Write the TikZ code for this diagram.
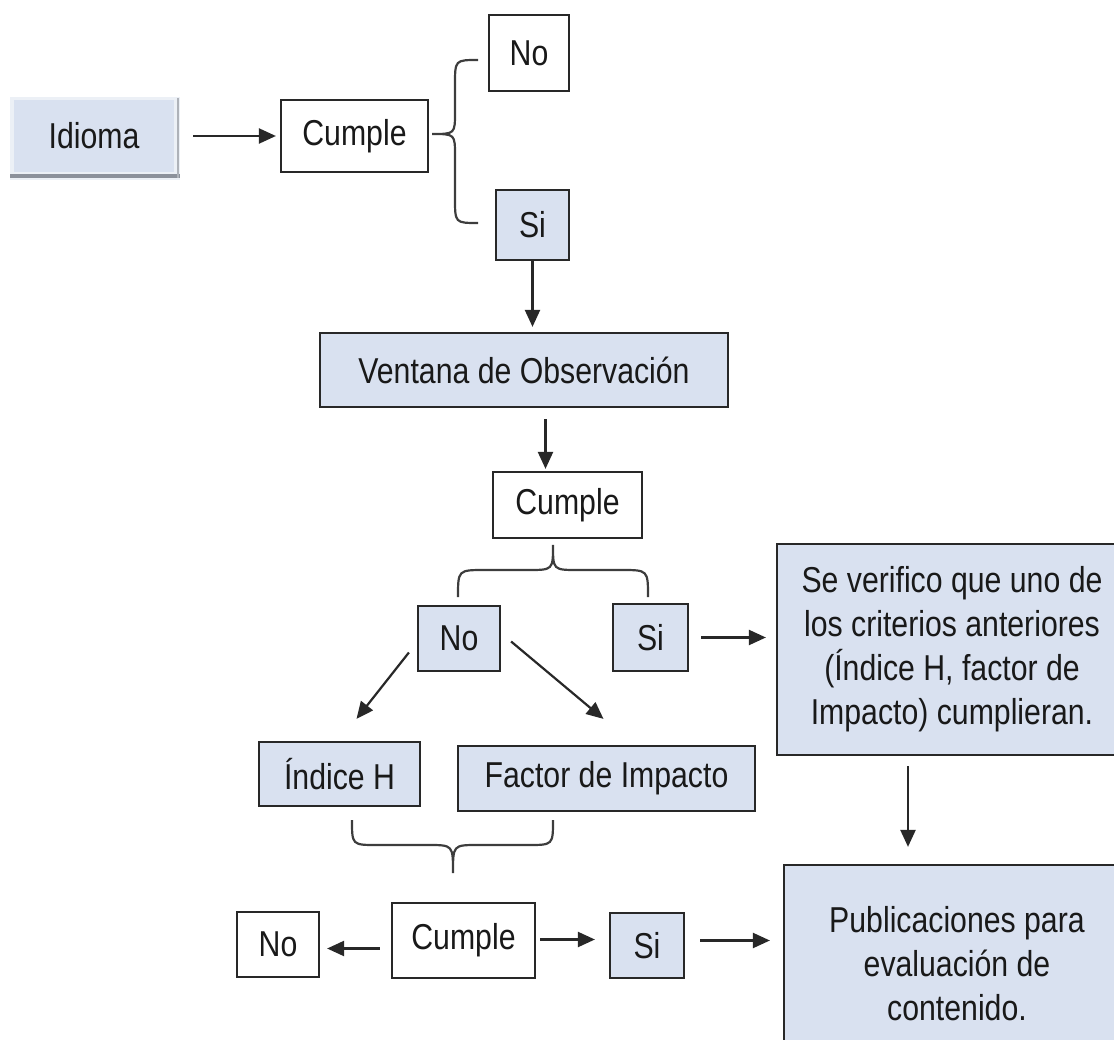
\documentclass[tikz,border=0pt]{standalone}
\usepackage{fontspec}
\setmainfont[FakeStretch=0.84]{Liberation Sans}
\usetikzlibrary{arrows.meta}
\definecolor{boxfill}{RGB}{217,225,240}
\definecolor{edgec}{RGB}{40,40,40}
\definecolor{txtc}{RGB}{25,25,25}
\definecolor{shadowc}{RGB}{140,145,155}
\definecolor{paleband}{RGB}{236,240,246}
\begin{document}
\begin{tikzpicture}[x=1pt,y=-1pt,
  box/.style={draw=edgec, line width=2.2pt, rectangle, inner sep=0pt, text=txtc,
    font=\fontsize{36}{44}\selectfont, align=center},
  bbox/.style={box, fill=boxfill},
  wbox/.style={box, fill=white},
  sz/.style 2 args={minimum width=#1pt, minimum height=#2pt},
  arr/.style={draw=edgec, line width=2.2pt, -{Triangle[length=17pt,width=15pt]}},
  brace/.style={draw=edgec!90, line width=2.2pt}]
\useasboundingbox (0,0) rectangle (1114,1040);
\clip (0,0) rectangle (1114,1040);

% Idioma with soft shadow
\fill[paleband] (10,97) rectangle (180,180);
\node[inner sep=0pt, fill=boxfill, sz={160}{72}, text=txtc, font=\fontsize{36}{44}\selectfont] (idioma) at (94,136) {Idioma};
\draw[shadowc, line width=4pt] ([shift={(-84,40)}]idioma.center) -- ([shift={(86,40)}]idioma.center);
\draw[shadowc!70, line width=2.5pt] ([shift={(84,-38)}]idioma.center) -- ([shift={(84,42)}]idioma.center);

% first row
\node[wbox, sz={147}{72}] (cumple1) at (354.5,136) {Cumple};
\node[wbox, sz={80}{76}] (no1) at (529,53) {No};
\node[bbox, sz={73}{70}] (si1) at (532.5,225) {Si};

\draw[arr, shorten <=19pt, shorten >=4pt] (idioma.east) -- (idioma.east -| cumple1.west);

% brace 1
\draw[brace] (478,60) .. controls (455,60) .. (455,85) -- (455,112)
  .. controls (455,134) .. (432,134) .. controls (455,134) .. (455,156)
  -- (455,198) .. controls (455,223) .. (478,223);

% Ventana
\node[bbox, sz={408}{74}] (ventana) at (524,370) {Ventana de Observación};
\draw[arr, shorten >=5pt] (si1.south) -- (si1.south |- ventana.north);

% Cumple 2
\node[wbox, sz={149}{66}] (cumple2) at (567.5,505) {Cumple};
\coordinate (c2in) at ([xshift=-22pt]cumple2.north);
\draw[arr, shorten <=11pt, shorten >=2pt] (ventana.south -| c2in) -- (c2in);

% brace 2
\draw[brace] (458,597) .. controls (458,570) .. (485,570) -- (528,570)
  .. controls (553,570) .. (553,545) .. controls (553,570) .. (578,570)
  -- (621,570) .. controls (648,570) .. (648,597);

\node[bbox, sz={82}{65}] (no2) at (459,638.5) {No};
\node[bbox, sz={75}{67}] (si2) at (650.5,637.5) {Si};

\node[bbox, sz={350}{211}] (sever) at (952,649.5)
  {Se verifico que uno de\\los criterios anteriores\\(Índice H, factor de\\Impacto) cumplieran.};
\draw[arr, shorten <=12pt, shorten >=10pt] (si2.east) -- (si2.east -| sever.west);

\node[bbox, sz={161}{64}] (indice) at (339.5,774) {Índice H};
\node[bbox, sz={297}{65}] (factor) at (606.5,778.5) {Factor de Impacto};

\draw[arr] ([shift={(-8,14)}]no2.west) -- ([shift={(17,-22)}]indice.north);
\draw[arr] ([shift={(10,3)}]no2.east) -- ([shift={(-3,-26)}]factor.north);

% brace 3
\draw[brace] (352,820) .. controls (352,845) .. (377,845) -- (428,845)
  .. controls (453,845) .. (453,873) .. controls (453,845) .. (478,845)
  -- (528,845) .. controls (553,845) .. (553,820);

\node[wbox, sz={82}{65}] (no3) at (278,944.5) {No};
\node[wbox, sz={143}{75}] (cumple3) at (463.5,940.5) {Cumple};
\node[bbox, sz={74}{65}] (si3) at (647,945.5) {Si};

\node[bbox, sz={346}{198}] (pub) at (957,964)
  {Publicaciones para\\evaluación de\\contenido.};

\draw[arr, shorten <=11pt, shorten >=7pt] ([yshift=-8pt]cumple3.west) -- ([yshift=-8pt]cumple3.west -| no3.east);
\draw[arr, shorten <=4pt, shorten >=14pt] ([yshift=1pt]cumple3.east) -- ([yshift=1pt]cumple3.east -| si3.west);
\draw[arr, shorten <=15pt, shorten >=13pt] ([yshift=5pt]si3.east) -- ([yshift=5pt]si3.east -| pub.west);

\coordinate (svout) at ([xshift=-44pt]sever.south);
\draw[arr, shorten <=10pt, shorten >=17pt] (svout) -- (svout |- pub.north);
\end{tikzpicture}
\end{document}
